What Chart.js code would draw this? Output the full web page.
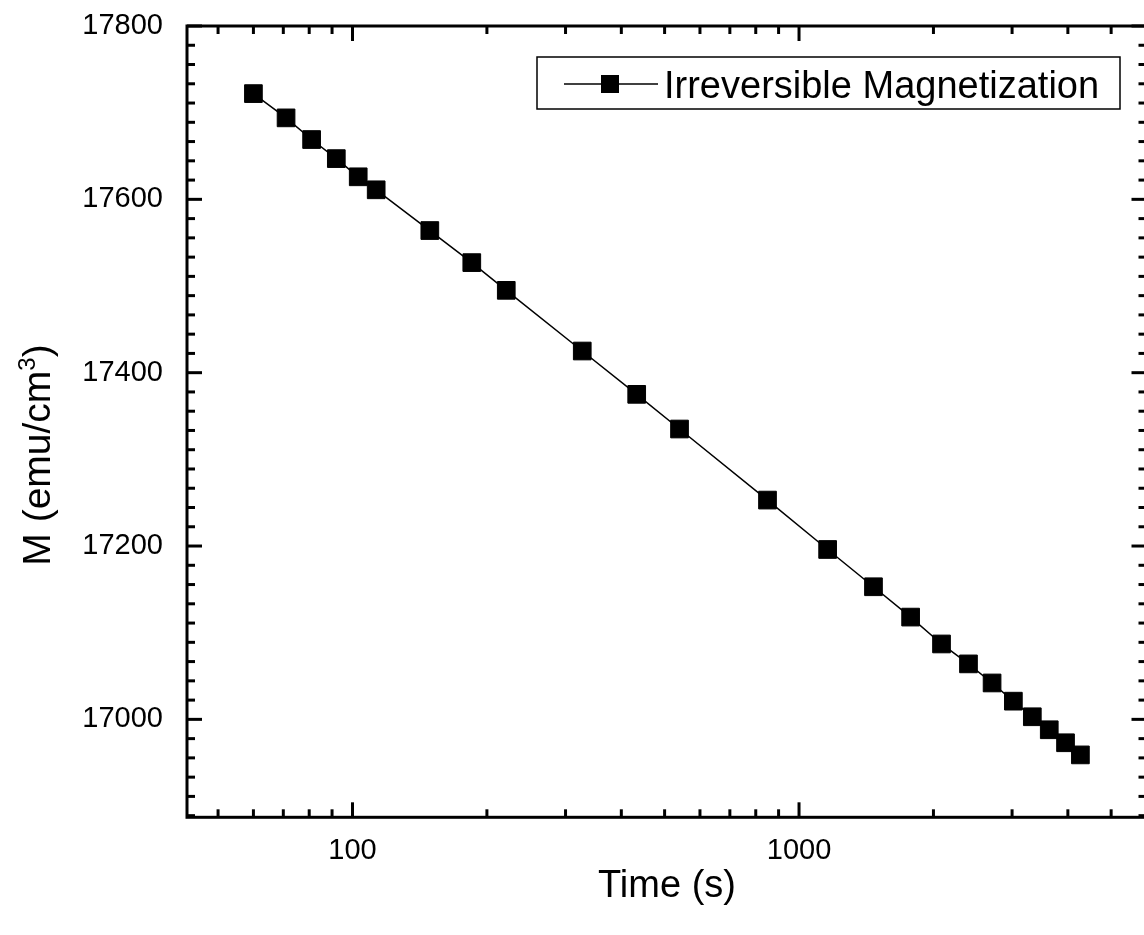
<!DOCTYPE html>
<html>
<head>
<meta charset="utf-8">
<script src="https://cdn.jsdelivr.net/npm/chart.js@4.4.1/dist/chart.umd.min.js"></script>
<style>
html,body{margin:0;padding:0;background:#fff;overflow:hidden;width:1144px;height:935px}
canvas{display:block}
</style>
</head>
<body>
<canvas id="c" width="1160" height="935" style="width:1160px;height:935px"></canvas>
<script>
// ---- data ----
const times = [60, 71, 81, 92, 103, 113, 149, 185, 221, 327, 433, 540, 850, 1159, 1468, 1778, 2085, 2396, 2706, 3020, 3330, 3634, 3952, 4267];
const magnetization = [17722, 17694, 17669, 17647, 17626, 17611, 17564, 17527, 17495, 17425, 17375, 17335, 17253, 17196, 17153, 17118, 17087, 17064, 17042, 17021, 17003, 16988, 16973, 16959];
const xTickValues = [100, 1000];
const xMinorValues = [50, 60, 70, 80, 90, 200, 300, 400, 500, 600, 700, 800, 900, 2000, 3000, 4000, 5000];
const yTickValues = [17000, 17200, 17400, 17600, 17800];
const seriesLabel = 'Irreversible Magnetization';
const xTitle = 'Time (s)';
const yTitleMain = 'M (emu/cm';
const yTitleSup = '3';
const yTitleEnd = ')';

const FONT = '"Liberation Sans", Arial, Helvetica, sans-serif';
const AREA = {left: 187, top: 26, right: 1149.6, bottom: 817.3};

const framePlugin = {
  id: 'frame',
  afterDraw(chart) {
    const {ctx, chartArea: a, scales: {x, y}} = chart;
    ctx.save();
    ctx.strokeStyle = '#000';
    ctx.fillStyle = '#000';
    ctx.lineCap = 'butt';
    ctx.lineWidth = 3;
    ctx.strokeRect(a.left, a.top, a.right - a.left, a.bottom - a.top);
    const seg = (x1, y1, x2, y2) => { ctx.beginPath(); ctx.moveTo(x1, y1); ctx.lineTo(x2, y2); ctx.stroke(); };
    const MAJ = 15, MIN = 8;
    xTickValues.forEach(v => { const p = x.getPixelForValue(v); seg(p, a.bottom, p, a.bottom - MAJ); seg(p, a.top, p, a.top + MAJ); });
    xMinorValues.forEach(v => { const p = x.getPixelForValue(v); seg(p, a.bottom, p, a.bottom - MIN); seg(p, a.top, p, a.top + MIN); });
    yTickValues.forEach(v => { const p = y.getPixelForValue(v); seg(a.left, p, a.left + MAJ, p); seg(a.right, p, a.right - MAJ, p); });
    const step = (yTickValues[1] - yTickValues[0]) / 9;
    for (let k = -12; k <= 40; k++) {
      if (k % 9 === 0) continue;
      const v = yTickValues[0] + k * step;
      if (v <= y.min || v >= y.max) continue;
      const p = y.getPixelForValue(v);
      seg(a.left, p, a.left + MIN, p); seg(a.right, p, a.right - MIN, p);
    }
    // axis titles
    ctx.font = '38px ' + FONT;
    ctx.textAlign = 'center';
    ctx.textBaseline = 'alphabetic';
    ctx.fillText(xTitle, 667, 897);
    ctx.translate(50, 455);
    ctx.rotate(-Math.PI / 2);
    const mainFont = '39px ' + FONT, supFont = '24px ' + FONT;
    ctx.font = mainFont; const w1 = ctx.measureText(yTitleMain).width; const w3 = ctx.measureText(yTitleEnd).width;
    ctx.font = supFont; const w2 = ctx.measureText(yTitleSup).width;
    let sx = -(w1 + w2 + w3) / 2;
    ctx.textAlign = 'left';
    ctx.font = mainFont; ctx.fillText(yTitleMain, sx, 0); sx += w1;
    ctx.font = supFont; ctx.fillText(yTitleSup, sx, -15); sx += w2;
    ctx.font = mainFont; ctx.fillText(yTitleEnd, sx, 0);
    ctx.restore();

    // legend
    ctx.save();
    ctx.strokeStyle = '#000'; ctx.fillStyle = '#000';
    ctx.lineWidth = 1.5;
    ctx.strokeRect(537, 57, 1120 - 537, 109 - 57);
    const ly = 84;
    ctx.beginPath(); ctx.moveTo(564, ly); ctx.lineTo(658, ly); ctx.stroke();
    ctx.fillRect(610 - 9, ly - 9, 18, 18);
    ctx.font = '38px ' + FONT;
    ctx.textAlign = 'left'; ctx.textBaseline = 'alphabetic';
    ctx.fillText(seriesLabel, 664, 98);
    ctx.restore();
  }
};

const chart = new Chart(document.getElementById('c'), {
  type: 'line',
  data: {
    datasets: [{
      label: seriesLabel,
      data: times.map((t, i) => ({x: t, y: magnetization[i]})),
      borderColor: '#000',
      borderWidth: 1.5,
      backgroundColor: '#000',
      pointStyle: 'rect',
      pointRadius: 12.5,
      pointBackgroundColor: '#000',
      pointBorderColor: '#000',
      pointBorderWidth: 1,
      tension: 0,
      fill: false,
      clip: false
    }]
  },
  options: {
    responsive: false,
    animation: false,
    devicePixelRatio: 1,
    layout: {padding: {top: AREA.top, right: 1160 - AREA.right, left: 0, bottom: 0}},
    plugins: {legend: {display: false}, tooltip: {enabled: false}},
    scales: {
      x: {
        type: 'logarithmic',
        position: 'bottom',
        min: 42.6,
        max: 6000,
        afterBuildTicks: s => { s.ticks = xTickValues.map(v => ({value: v})); },
        afterFit: s => { s.height = 935 - AREA.bottom; s.paddingLeft = 0; s.paddingRight = 0; },
        grid: {display: false, drawTicks: false, tickLength: 0},
        border: {display: false},
        ticks: {
          autoSkip: false, maxRotation: 0, padding: 16,
          color: '#000', font: {family: FONT, size: 29},
          callback: v => String(v)
        }
      },
      y: {
        type: 'linear',
        position: 'left',
        min: 16887,
        max: 17800,
        afterBuildTicks: s => { s.ticks = yTickValues.map(v => ({value: v})); },
        afterFit: s => { s.width = AREA.left; s.paddingTop = 0; s.paddingBottom = 0; },
        grid: {display: false, drawTicks: false, tickLength: 0},
        border: {display: false},
        ticks: {
          autoSkip: false, padding: 24,
          color: '#000', font: {family: FONT, size: 29},
          callback: v => String(v)
        }
      }
    }
  },
  plugins: [framePlugin]
});
</script>
</body>
</html>
